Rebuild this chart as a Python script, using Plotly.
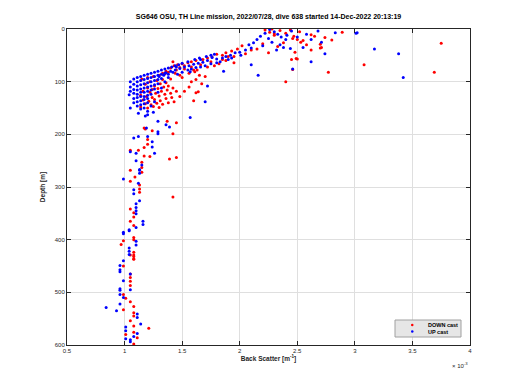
import plotly.graph_objects as go

# ---------------- data (backscatter in units of 1e-3 m^-1, depth in m) ----------------
down_x = [
    2.28, 2.44, 2.52, 2.62, 2.65, 2.74, 2.80, 2.89, 2.71, 2.35, 2.40, 2.30, 2.46, 2.55, 2.38, 2.58, 2.20, 2.33, 2.62, 2.48, 2.15, 2.25,
    2.22, 2.26, 2.30, 2.47, 2.50, 2.53,
    2.49, 2.45, 2.77, 3.08, 3.75, 3.69, 2.40, 2.70, 2.70, 2.46, 2.50,
    2.02, 1.98, 1.93, 1.88, 1.85, 1.80, 1.76, 1.72, 1.95, 2.05, 1.68, 1.62, 1.58, 1.55, 1.50, 1.46, 1.43, 1.48, 1.52, 1.45, 1.42, 1.40,
    1.66, 1.72, 1.78, 1.60, 1.56, 1.65, 1.70, 1.62, 1.58, 1.50, 1.67, 1.64, 1.88, 1.82, 2.10, 1.95, 1.61, 1.63, 1.62, 1.60,
    1.52, 1.58, 1.75, 1.85, 1.90, 1.44, 1.48, 1.36, 1.33,
    1.15, 1.20, 1.25, 1.30, 1.35, 1.38, 1.22, 1.28, 1.33, 1.18, 1.26, 1.31, 1.36, 1.40, 1.20, 1.24, 1.29, 1.34, 1.38, 1.16,
    1.22, 1.27, 1.32, 1.37, 1.42, 1.14, 1.19, 1.24, 1.30, 1.35, 1.40, 1.45, 1.16, 1.21, 1.26, 1.31, 1.36, 1.41, 1.18, 1.23,
    1.28, 1.33, 1.38, 1.14, 1.20, 1.25, 1.30, 1.43, 1.48, 1.52, 1.56,
    1.37, 1.45, 1.18, 1.24, 1.42, 1.20, 1.20, 1.17, 1.05, 1.12, 1.17, 1.22, 1.45, 1.39, 1.15, 1.15, 1.05, 1.15, 1.17,
    1.09, 1.05, 1.13, 1.13, 1.13, 1.42, 1.05, 1.08, 1.08, 1.05, 1.08, 1.08, 1.08, 0.99, 0.97, 1.08, 1.08, 1.08,
    1.05, 1.08, 1.08, 0.99, 1.05, 1.05, 1.05, 1.05, 0.99, 1.01, 1.05, 1.08, 0.99, 1.08, 1.08, 1.05, 1.08, 1.21, 1.08, 1.01, 1.11, 1.08,
]
down_depth = [
    0, 2, 5, 11, 14, 16, 21, 6, 35, 3, 8, 12, 18, 22, 26, 30, 28, 33, 40, 44, 38, 45,
    2, 6, 9, 14, 20, 25,
    56, 58, 82, 68, 27, 82, 100, 29, 36, 77, 57,
    32, 38, 42, 45, 50, 48, 53, 55, 52, 47, 58, 60, 62, 64, 66, 68, 70, 73, 76, 78, 62, 74,
    68, 72, 70, 78, 84, 88, 90, 96, 100, 92, 104, 119, 60, 66, 40, 64, 81, 78, 121, 136,
    70, 72, 62, 58, 52, 84, 88, 80, 84,
    95, 92, 90, 88, 85, 82, 100, 98, 96, 105, 108, 104, 102, 95, 112, 115, 113, 110, 108, 118,
    120, 122, 118, 116, 112, 126, 128, 130, 127, 124, 122, 118, 135, 137, 134, 136, 132, 130, 142, 144,
    141, 143, 140, 148, 150, 147, 149, 138, 128, 118, 110,
    175, 178, 190, 193, 199, 210, 219, 225, 230, 230, 241, 242, 244, 247, 253, 263, 268, 272, 188,
    281, 289, 296, 304, 310, 319, 342, 349, 357, 365, 373, 396, 400, 402, 409, 424, 432, 436,
    429, 429, 437, 450, 465, 472, 479, 487, 504, 511, 518, 527, 533, 539, 545, 554, 564, 568, 576, 580, 586, 598,
]

up_x = [
    2.68, 2.83, 3.02, 2.71, 2.55, 2.26, 2.30, 2.33, 2.36, 2.40, 2.28, 2.35, 2.38, 2.41, 2.22, 2.18, 2.15, 2.12, 2.20, 2.25,
    2.45, 2.50, 2.58, 2.62, 2.08, 2.10, 2.05, 2.44, 2.32, 2.00,
    2.74, 2.62, 2.46, 3.17, 3.38, 3.42, 2.16, 2.10, 3.01,
    1.96, 1.92, 1.88, 1.85, 1.80, 1.76, 1.72, 1.68, 1.64, 1.60, 1.56, 1.52, 1.48, 1.44, 1.40, 1.36, 1.83, 1.75, 1.70, 1.90,
    1.78, 1.66, 1.58, 1.50, 1.62, 1.46, 1.34, 1.30, 1.86, 1.72, 1.70, 1.57,
    1.50, 1.55, 1.61, 1.65, 1.71, 1.75, 1.45, 1.42, 1.38, 1.55, 1.66, 1.80, 1.93, 2.01,
    1.05, 1.05, 1.05, 1.04, 1.08, 1.08, 1.08, 1.08, 1.08, 1.08, 1.11, 1.11, 1.11, 1.11, 1.11, 1.11, 1.11, 1.11,
    1.14, 1.14, 1.14, 1.14, 1.14, 1.14, 1.14, 1.14, 1.14, 1.17, 1.17, 1.17, 1.17, 1.17, 1.17, 1.17, 1.17, 1.17,
    1.20, 1.20, 1.20, 1.20, 1.20, 1.20, 1.20, 1.20, 1.20, 1.23, 1.23, 1.23, 1.23, 1.23, 1.23, 1.23,
    1.26, 1.26, 1.26, 1.26, 1.26, 1.26, 1.29, 1.29, 1.29, 1.29, 1.29, 1.32, 1.32, 1.32, 1.32,
    1.35, 1.35, 1.35, 1.38, 1.38, 1.41, 1.44, 1.47, 1.12, 1.18, 1.05, 1.25,
    1.20, 1.29, 1.36, 1.39, 1.19, 1.29, 1.29, 1.57, 1.08, 1.12, 1.20, 1.24, 1.24, 1.05, 1.10, 1.26, 1.10, 1.15, 1.13,
    1.13, 1.13, 0.99, 1.12, 1.08, 1.08, 1.13, 1.10, 1.10, 1.10, 1.10, 1.16, 1.16, 1.10, 1.04, 1.04, 0.99, 0.99,
    1.10, 1.10, 1.04, 1.04, 1.04,
    0.99, 0.96, 0.96, 0.96, 1.05, 0.99, 1.05, 0.96, 0.96, 0.96, 0.99, 0.96, 0.84, 0.93, 1.11, 1.11, 1.14, 1.01, 1.01,
    1.11, 1.08, 1.01, 1.05, 1.05,
]
up_depth = [
    4, 7, 7, 25, 35, 1, 5, 10, 15, 20, 25, 30, 35, 12, 8, 14, 20, 26, 32, 18,
    4, 15, 10, 20, 30, 36, 40, 37, 40, 44,
    47, 62, 76, 38, 47, 92, 88, 68, 8,
    45, 50, 52, 55, 57, 54, 60, 63, 65, 67, 70, 72, 75, 78, 80, 83, 62, 66, 70, 58,
    48, 58, 76, 82, 73, 86, 88, 90, 80, 108, 138, 81,
    65, 62, 58, 55, 52, 50, 72, 82, 86, 78, 72, 64, 55, 50,
    100, 110, 118, 125, 95, 105, 115, 122, 132, 140, 92, 100, 108, 116, 124, 130, 138, 146,
    90, 98, 106, 114, 120, 128, 136, 144, 152, 88, 96, 104, 112, 120, 128, 134, 142, 150,
    86, 94, 102, 110, 118, 126, 132, 140, 156, 84, 92, 100, 108, 116, 124, 146,
    82, 90, 98, 106, 114, 138, 80, 88, 96, 104, 120, 78, 86, 94, 112,
    76, 84, 100, 74, 92, 72, 70, 68, 160, 165, 150, 158,
    163, 175, 182, 186, 188, 195, 199, 168, 207, 204, 204, 214, 224, 233, 236, 236, 250, 258, 267,
    268, 274, 285, 293, 305, 313, 326, 332, 339, 345, 351, 365, 371, 377, 381, 383, 386, 389,
    403, 410, 416, 422, 428,
    440, 449, 457, 461, 465, 478, 495, 493, 496, 504, 510, 522, 529, 535, 541, 548, 560, 566, 573,
    578, 584, 588, 590, 594,
]

x_ticks = [0.5, 1, 1.5, 2, 2.5, 3, 3.5, 4]
y_ticks = [0, 100, 200, 300, 400, 500, 600]
series_names = ["DOWN cast", "UP cast"]
series_colors = ["#ff0000", "#0000ff"]
title_text = "SG646 OSU, TH Line mission, 2022/07/28, dive 638 started 14-Dec-2022 20:13:19"

# ---------------- figure ----------------
FONT = "Liberation Sans, Arial, sans-serif"
AX = "#262626"
GRID = "#dfdfdf"
OFF = 8                   # page body has an 8px margin
W, H = 512, 382
ML, MR, MT, MB = 59, 50, 21, 45
PW, PH = W - ML - MR, H - MT - MB

fig = go.Figure()
fig.add_trace(go.Scatter(x=down_x, y=down_depth, mode="markers", name=series_names[0],
                         marker=dict(color=series_colors[0], size=3, line=dict(width=0))))
fig.add_trace(go.Scatter(x=up_x, y=up_depth, mode="markers", name=series_names[1],
                         marker=dict(color=series_colors[1], size=3, line=dict(width=0))))

fig.update_layout(
    width=W, height=H,
    margin=dict(l=ML, r=MR, t=MT, b=MB, autoexpand=False),
    paper_bgcolor="white", plot_bgcolor="white",
    font=dict(family=FONT, size=6, color=AX),
    title=dict(text="<b>" + title_text + "</b>", x=(ML + PW / 2) / W, xanchor="center",
               y=1 - 9 / H, yanchor="middle", font=dict(size=7, color="#000000")),
    showlegend=False,
)

fig.update_xaxes(range=[0.5, 4], tickvals=x_ticks, ticktext=[f"{v:g}" for v in x_ticks],
                 showgrid=True, gridcolor=GRID, gridwidth=1, zeroline=False,
                 showline=True, linecolor=AX, linewidth=1, mirror="allticks",
                 ticks="inside", ticklen=4, tickcolor=AX, tickfont=dict(size=6, color=AX),
                 title=dict(text="<b>Back Scatter [m<sup>-1</sup>]</b>", font=dict(size=6.5, color=AX), standoff=2))
fig.update_yaxes(range=[600, 0], tickvals=y_ticks, ticktext=[str(v) for v in y_ticks],
                 showgrid=True, gridcolor=GRID, gridwidth=1, zeroline=False,
                 showline=True, linecolor=AX, linewidth=1, mirror="allticks",
                 ticks="inside", ticklen=4, tickcolor=AX, tickfont=dict(size=6, color=AX),
                 title=dict(text="<b>Depth [m]</b>", font=dict(size=6.5, color=AX), standoff=8))

fig.add_annotation(text="\u00d7 10<sup>-3</sup>", xref="paper", yref="paper", x=1.0, y=-14 / PH,
                   xanchor="right", yanchor="top", showarrow=False, font=dict(size=6, color=AX))

# legend box (screen px -> paper coords)
def px(xp):
    return (xp - OFF - ML) / PW

def py(yp):
    return 1 - (yp - OFF - MT) / PH

fig.add_shape(type="rect", xref="paper", yref="paper", x0=px(395), x1=px(461), y0=py(337), y1=py(320),
              fillcolor="#e6e6e6", line=dict(color="#a0a0a0", width=1), layer="above")
for i, (name, col) in enumerate(zip(series_names, series_colors)):
    yy = 325 + i * 6.5
    fig.add_shape(type="circle", xref="paper", yref="paper",
                  x0=px(411), x1=px(413.5), y0=py(yy + 1.25), y1=py(yy - 1.25),
                  fillcolor=col, line=dict(width=0), layer="above")
    fig.add_annotation(text="<b>" + name + "</b>", xref="paper", yref="paper", x=px(426), y=py(yy),
                       xanchor="left", yanchor="middle", showarrow=False,
                       font=dict(size=5.5, color="#000000"))

fig.write_html("out.html")
